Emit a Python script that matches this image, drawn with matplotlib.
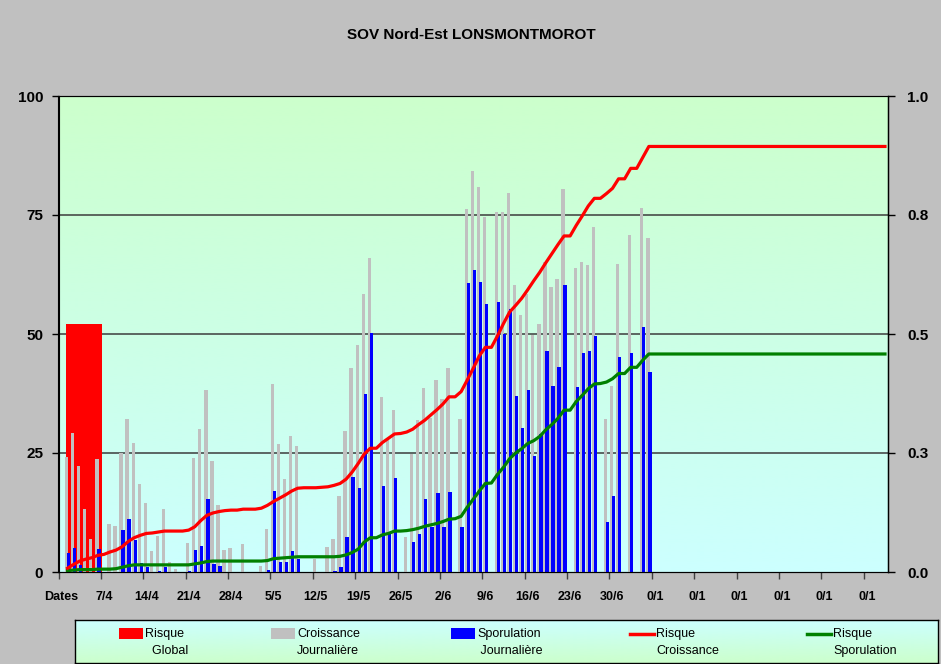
"""SOV Nord-Est LONSMONTMOROT: daily growth / sporulation bars and cumulative risk lines."""
import matplotlib

matplotlib.use("Agg")
import matplotlib.pyplot as plt
import numpy as np
from matplotlib.patches import Rectangle
from matplotlib.lines import Line2D

plt.rcParams["font.family"] = ["Liberation Sans", "DejaVu Sans"]

TITLE = "SOV Nord-Est LONSMONTMOROT"
N_DAYS = 137  # category slots on the x axis (31/3 ... empty dates)

tick_labels = ["Dates", "7/4", "14/4", "21/4", "28/4", "5/5", "12/5", "19/5", "26/5",
               "2/6", "9/6", "16/6", "23/6", "30/6", "0/1", "0/1", "0/1", "0/1", "0/1", "0/1"]

# Risque Global: one block over the first days
global_risk = 52
global_days = (1, 6)

# Croissance journaliere (day 0 .. 97)
croissance = [
    0, 24.2, 29.1, 22.3, 13.2, 6.9, 23.7, 0, 10.1, 9.7,
    25.1, 32.2, 27.2, 18.5, 14.6, 4.5, 7.6, 13.2, 2.0, 0.6,
    0, 6.1, 24.0, 30.0, 38.2, 23.3, 14.1, 4.6, 5.0, 0,
    5.8, 0, 0, 1.3, 9.0, 39.5, 26.9, 19.5, 28.6, 26.5,
    0, 0, 2.7, 0, 5.2, 6.9, 16.0, 29.6, 42.9, 47.6,
    58.5, 66.0, 0, 36.7, 27.8, 34.0, 0, 7.4, 24.8, 31.9,
    38.6, 32.3, 40.3, 36.3, 42.9, 0, 32.1, 76.2, 84.2, 80.9,
    74.5, 0, 75.7, 75.7, 79.7, 60.2, 54.0, 58.5, 49.8, 52.1,
    65.2, 59.9, 61.5, 80.4, 0, 63.9, 65.1, 64.6, 72.4, 0,
    32.1, 39.1, 64.8, 0, 70.8, 0, 76.5, 70.1,
]

# Sporulation journaliere (day 0 .. 97)
sporulation = [
    0, 4.0, 5.1, 1.5, 0, 0, 4.8, 0, 0, 0,
    8.8, 11.1, 6.7, 1.9, 1.0, 0, 0.2, 1.1, 0, 0,
    0, 0.2, 4.6, 5.5, 15.3, 1.7, 1.3, 0, 0, 0,
    0, 0, 0, 0, 0.4, 17.0, 2.2, 2.0, 4.4, 2.7,
    0, 0, 0, 0, 0, 0.2, 1.0, 7.4, 20.0, 17.6,
    37.4, 50.2, 0, 18.1, 7.9, 19.8, 0, 0, 6.4, 8.0,
    15.3, 9.5, 16.7, 9.5, 16.9, 0, 9.5, 60.8, 63.4, 60.9,
    56.4, 0, 56.7, 50.1, 55.3, 37.0, 30.3, 38.2, 24.4, 29.0,
    46.4, 39.1, 43.1, 60.2, 0, 38.9, 46.0, 46.5, 49.6, 0,
    10.4, 16.0, 45.2, 0, 46.0, 0, 51.5, 42.0,
]

# Risque Croissance, right axis (day 1 .. 136), flat after 97
risque_croissance = [
    .008, .016, .023, .027, .030, .035, .037, .042, .046, .053,
    .064, .072, .077, .081, .082, .084, .086, .086, .086, .086,
    .088, .095, .108, .119, .124, .127, .129, .130, .130, .132,
    .132, .132, .134, .140, .148, .155, .162, .170, .176, .177,
    .177, .177, .178, .179, .182, .186, .195, .210, .228, .248,
    .260, .260, .272, .281, .290, .291, .294, .300, .310, .319,
    .330, .341, .353, .368, .368, .379, .403, .428, .454, .472,
    .472, .496, .522, .546, .560, .575, .593, .612, .630, .650,
    .669, .688, .706, .706, .728, .748, .769, .785, .785, .795,
    .806, .826, .826, .848, .848, .871, .894,
] + [.894] * 39

# Risque Sporulation, right axis (day 1 .. 136)
risque_sporulation = [
    .003, .004, .005, .005, .005, .006, .006, .006, .007, .010,
    .013, .015, .015, .015, .015, .015, .015, .015, .015, .015,
    .015, .017, .019, .022, .023, .023, .023, .023, .023, .023,
    .023, .023, .023, .024, .028, .029, .030, .031, .032, .032,
    .032, .032, .032, .032, .032, .033, .036, .041, .048, .063,
    .072, .072, .078, .081, .086, .086, .087, .089, .092, .096,
    .099, .102, .106, .111, .112, .117, .136, .153, .170, .186,
    .187, .205, .220, .238, .250, .259, .270, .276, .285, .299,
    .310, .323, .340, .340, .358, .371, .385, .395, .396, .399,
    .406, .417, .417, .430, .430, .445, .458,
] + [.458] * 39

right_ticks = [0, 0.25, 0.5, 0.75, 1.0]
right_labels = ["0.0", "0.3", "0.5", "0.8", "1.0"]

W, H = 941, 664
BG = "#c0c0c0"
GREEN_BG = np.array([204, 255, 204]) / 255
CYAN_BG = np.array([204, 255, 255]) / 255


def px(x, y):
    return x / W, 1 - y / H


def gradient(ax, top, bottom):
    t = np.linspace(0, 1, 256)[:, None]
    img = top[None, None, :] * (1 - t[..., None]) + bottom[None, None, :] * t[..., None]
    ax.imshow(img, extent=[0, 1, 0, 1], transform=ax.transAxes, aspect="auto",
              zorder=0, interpolation="bilinear")


fig = plt.figure(figsize=(W / 100, H / 100), dpi=100, facecolor=BG)
ax = fig.add_axes([58.5 / W, (H - 572) / H, 829.5 / W, 476 / H])
gradient(ax, GREEN_BG, CYAN_BG)

for v in (25, 50, 75):
    ax.axhline(v, color="#3c3c3c", lw=1.1, zorder=1)

days_bar = np.arange(len(croissance))
ax.bar(global_days[0] - 0.31, global_risk, width=global_days[1] - global_days[0] + 0.96,
       align="edge", color="#ff0000", zorder=2, linewidth=0)
ax.bar(days_bar - 0.165, croissance, width=0.55, color="#c0c0c0", zorder=3, linewidth=0)
ax.bar(days_bar + 0.165, sporulation, width=0.55, color="#0000ff", zorder=4, linewidth=0)

ax.set_xlim(-0.5, N_DAYS - 0.5)
ax.set_ylim(0, 100)
ax.set_yticks([0, 25, 50, 75, 100])
ax.tick_params(axis="y", direction="out", length=5, width=1, pad=6,
               labelsize=11)
for lab in ax.get_yticklabels():
    lab.set_fontweight("bold")

ax.set_xticks(np.arange(0, N_DAYS, 7)[:len(tick_labels)])
ax.set_xticklabels(tick_labels, fontsize=9, fontweight="bold")
ax.set_xticks(np.arange(-0.5, N_DAYS - 1, 7), minor=True)
ax.tick_params(axis="x", which="major", length=0, pad=14)
ax.tick_params(axis="x", which="minor", direction="out", length=5, width=1, color="#404040")

for side in ("left", "bottom", "right"):
    ax.spines[side].set_color("black")
ax.spines["top"].set_color("#3c3c3c")

ax2 = ax.twinx()
days_line = np.arange(1, N_DAYS)
ax2.plot(days_line, risque_sporulation, color="#008000", lw=2.3, solid_joinstyle="round")
ax2.plot(days_line, risque_croissance, color="#ff0000", lw=2.3, solid_joinstyle="round")
ax2.set_ylim(0, 1)
ax2.set_yticks(right_ticks)
ax2.set_yticklabels(right_labels, fontsize=11, fontweight="bold")
ax2.tick_params(axis="y", direction="out", length=5, width=1, pad=9)
ax2.spines["right"].set_color("black")
ax2.spines["right"].set_linewidth(1)

fig.text(*px(471, 35), TITLE, ha="center", va="center", fontsize=11, fontweight="bold")

# legend box
leg = fig.add_axes([75 / W, (H - 663) / H, (938 - 75) / W, (663 - 620) / H])
gradient(leg, CYAN_BG, GREEN_BG)
leg.set_xticks([])
leg.set_yticks([])
for s in leg.spines.values():
    s.set_color("black")
    s.set_linewidth(1)

entries = [
    ("patch", "#ff0000", 119, "Risque", "  Global"),
    ("patch", "#c0c0c0", 271, "Croissance", "Journalière"),
    ("patch", "#0000ff", 451, "Sporulation", " Journalière"),
    ("line", "#ff0000", 630, "Risque", "Croissance"),
    ("line", "#008000", 807, "Risque", "Sporulation"),
]
for kind, color, x0, l1, l2 in entries:
    if kind == "patch":
        x, y = px(x0, 639)
        fig.add_artist(Rectangle((x, y), 24 / W, 11 / H, transform=fig.transFigure,
                                 color=color, linewidth=0))
    else:
        xa, ya = px(x0, 634)
        xb, _ = px(x0 + 24, 634)
        fig.add_artist(Line2D([xa, xb], [ya, ya], transform=fig.transFigure,
                              color=color, lw=2.5))
    fig.text(*px(x0 + 26, 634), l1, ha="left", va="center", fontsize=9)
    fig.text(*px(x0 + 26, 651), l2, ha="left", va="center", fontsize=9)

fig.savefig("out.png", dpi=100, facecolor=BG)
